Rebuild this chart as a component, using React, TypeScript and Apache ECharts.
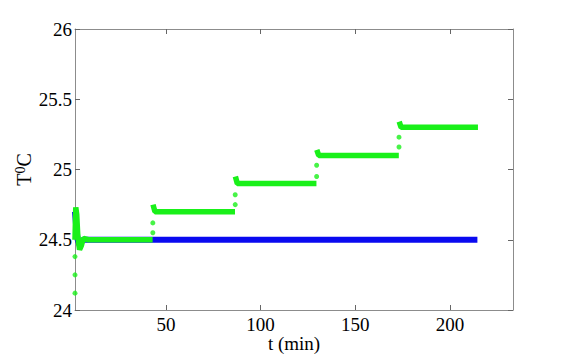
import React, { useEffect, useRef } from "react";
import * as echarts from "echarts";

// Axis ticks / limits
const xTicks = [50, 100, 150, 200];
const yTicks = [24, 24.5, 25, 25.5, 26];
const xMin = 2;
const xMax = 233.3;
const yMin = 24;
const yMax = 26;
const yInterval = 0.5;

// Blue series
const blueT = [2, 2.6, 3.4, 4.5, 6, 30, 60, 90, 120, 150, 180, 214.5];
const blueV = [24.7, 24.6, 24.5, 24.46, 24.5, 24.5, 24.5, 24.5, 24.5, 24.5, 24.5, 24.5];

// Green series plateaus (each list is one connected run)
const greenSegT = [
  [2, 2.4, 2.9, 3.5, 4.4, 5.4, 6.4, 9, 43.0],
  [43.2, 44.2, 86.5],
  [86.7, 87.7, 129.5],
  [129.7, 130.7, 173.0],
  [173.2, 174.2, 214.8],
];
const greenSegV = [
  [24.5, 24.73, 24.68, 24.52, 24.43, 24.46, 24.51, 24.5, 24.5],
  [24.75, 24.7, 24.7],
  [24.95, 24.9, 24.9],
  [25.14, 25.1, 25.1],
  [25.34, 25.3, 25.3],
];

// Green isolated samples during the jumps
const greenJumpT = [2, 2, 2, 43.1, 43.1, 86.6, 86.6, 129.6, 129.6, 173.1, 173.1];
const greenJumpV = [24.12, 24.25, 24.38, 24.55, 24.62, 24.75, 24.82, 24.95, 25.03, 25.16, 25.23];

const FONT = "Liberation Serif";
const LABEL_FONT = "19px 'Liberation Serif', 'Times New Roman', serif";
const BOX = "#8c8c8c";
const GREEN = "#19f019";
const BLUE = "#0a0af0";

export default function App() {
  const ref = useRef<HTMLDivElement>(null);
  useEffect(() => {
    if (!ref.current) return;
    const chart = echarts.init(ref.current, undefined, { renderer: "svg" });
    const zip = (t: number[], v: number[]) => t.map((x, i) => [x, v[i]]);

    const baseX = {
      type: "value" as const,
      min: xMin,
      max: xMax,
      splitLine: { show: false },
      axisLabel: { show: false },
      axisLine: { show: true, onZero: false, lineStyle: { color: BOX, width: 1 } },
      axisTick: { show: true, inside: true, length: 5, customValues: xTicks, lineStyle: { color: "#666" } },
    };
    const baseY = {
      type: "value" as const,
      min: yMin,
      max: yMax,
      interval: yInterval,
      splitLine: { show: false },
      axisLabel: { show: false },
      axisLine: { show: true, onZero: false, lineStyle: { color: BOX, width: 1 } },
      axisTick: { show: true, inside: true, length: 5, lineStyle: { color: "#666" } },
    };

    const series: any[] = [
      {
        type: "line",
        data: zip(blueT, blueV),
        showSymbol: false,
        lineStyle: { color: BLUE, width: 6 },
        itemStyle: { color: BLUE },
        silent: true,
      },
      ...greenSegT.map((t, i) => ({
        type: "line",
        data: zip(t, greenSegV[i]),
        showSymbol: false,
        lineStyle: { color: GREEN, width: 5.5 },
        itemStyle: { color: GREEN },
        silent: true,
      })),
      {
        type: "scatter",
        data: zip(greenJumpT, greenJumpV),
        symbolSize: 5,
        itemStyle: { color: GREEN },
        clip: false,
        silent: true,
      },
    ];

    chart.setOption({
      animation: false,
      backgroundColor: "#ffffff",
      grid: { left: 75, right: 57, top: 29, bottom: 50 },
      xAxis: [
        {
          ...baseX,
          position: "bottom",
          name: "t (min)",
          nameLocation: "middle",
          nameGap: 24,
          nameTextStyle: { fontFamily: FONT, fontSize: 19, color: "#000" },
        },
        { ...baseX, position: "top" },
      ],
      yAxis: [
        {
          ...baseY,
          position: "left",
          name: "{a|T}{s|0}{a|C}",
          nameLocation: "middle",
          nameRotate: 90,
          nameGap: 40,
          nameTextStyle: {
            fontFamily: FONT,
            fontSize: 20,
            color: "#000",
            rich: {
              a: { fontFamily: FONT, fontSize: 20, color: "#000", lineHeight: 22 },
              s: { fontFamily: FONT, fontSize: 14, color: "#000", verticalAlign: "top", lineHeight: 22 },
            },
          },
        },
        { ...baseY, position: "right" },
      ],
      series,
    });

    // Tick labels drawn as graphic text at positions given by the axes' own scales
    const texts: any[] = [];
    xTicks.forEach((v) => {
      const p = chart.convertToPixel({ xAxisIndex: 0, yAxisIndex: 0 }, [v, yMin]) as number[];
      texts.push({
        type: "text",
        x: p[0],
        y: p[1] + 5,
        style: {
          text: String(v),
          font: LABEL_FONT,
          fill: "#000",
          align: "center",
          verticalAlign: "top",
        },
      });
    });
    yTicks.forEach((v) => {
      const p = chart.convertToPixel({ xAxisIndex: 0, yAxisIndex: 0 }, [xMin, v]) as number[];
      texts.push({
        type: "text",
        x: p[0] - 3,
        y: p[1],
        style: {
          text: String(v),
          font: LABEL_FONT,
          fill: "#000",
          align: "right",
          verticalAlign: "middle",
        },
      });
    });
    chart.setOption({ graphic: texts });

    return () => chart.dispose();
  }, []);
  return (
    <div
      ref={ref}
      style={{ position: "fixed", left: 0, top: 0, width: 570, height: 360, background: "#fff" }}
    />
  );
}
